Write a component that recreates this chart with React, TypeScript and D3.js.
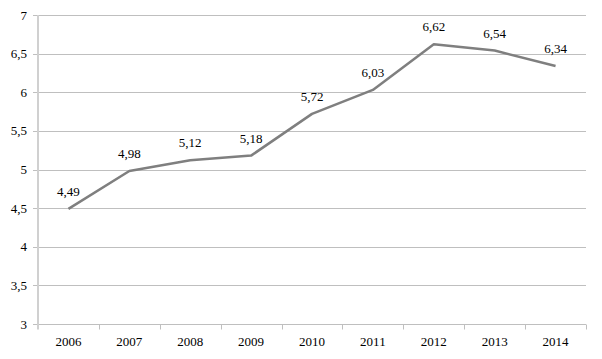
import { useEffect, useRef } from "react";
import * as d3 from "d3";

const years = ["2006", "2007", "2008", "2009", "2010", "2011", "2012", "2013", "2014"];
const values = [4.49, 4.98, 5.12, 5.18, 5.72, 6.03, 6.62, 6.54, 6.34];
const yTicks = [3, 3.5, 4, 4.5, 5, 5.5, 6, 6.5, 7];

const fmt = (v: number) => String(v).replace(".", ",");
const FONT = '"Liberation Serif", "DejaVu Serif", serif';

export default function App() {
  const ref = useRef<SVGSVGElement | null>(null);

  useEffect(() => {
    const node = ref.current;
    if (!node) return;
    const svg = d3.select(node);
    svg.selectAll("*").remove();

    const width = 602;
    const height = 359;
    const marginLeft = 38;
    const marginRight = 16;
    const marginTop = 15;
    const marginBottom = 35;

    const x = d3
      .scaleBand<string>()
      .domain(years)
      .range([marginLeft, width - marginRight]);
    const y = d3
      .scaleLinear()
      .domain([3, 7])
      .range([height - marginBottom, marginTop]);

    const label = (sel: d3.Selection<any, any, any, any>) =>
      sel.style("font-family", FONT).style("font-size", "13px").attr("fill", "#000");

    // gridlines
    svg
      .append("g")
      .selectAll("line")
      .data(yTicks.slice(1))
      .join("line")
      .attr("x1", marginLeft - 5)
      .attr("x2", width - marginRight)
      .attr("y1", (d) => Math.round(y(d)) + 0.5)
      .attr("y2", (d) => Math.round(y(d)) + 0.5)
      .attr("stroke", "#bfbfbf")
      .attr("stroke-width", 1);

    // y labels
    svg
      .append("g")
      .selectAll("text")
      .data(yTicks)
      .join("text")
      .attr("x", marginLeft - 11)
      .attr("y", (d) => y(d) + 4.5)
      .attr("text-anchor", "end")
      .call(label)
      .text((d) => fmt(d));

    // x axis
    const baseY = Math.round(y(3)) + 0.5;
    svg
      .append("line")
      .attr("x1", marginLeft - 5)
      .attr("x2", width - marginRight)
      .attr("y1", baseY)
      .attr("y2", baseY)
      .attr("stroke", "#bfbfbf");

    svg
      .append("g")
      .selectAll("line")
      .data(years)
      .join("line")
      .attr("x1", (d) => Math.round((x(d) ?? 0) + x.bandwidth()) + 0.5)
      .attr("x2", (d) => Math.round((x(d) ?? 0) + x.bandwidth()) + 0.5)
      .attr("y1", baseY)
      .attr("y2", baseY + 5)
      .attr("stroke", "#bfbfbf");

    // y axis line
    svg
      .append("line")
      .attr("x1", marginLeft)
      .attr("x2", marginLeft)
      .attr("y1", marginTop)
      .attr("y2", baseY + 5)
      .attr("stroke", "#d0d0d0")
      .attr("stroke-width", 2);

    svg
      .append("g")
      .selectAll("text")
      .data(years)
      .join("text")
      .attr("x", (d) => (x(d) ?? 0) + x.bandwidth() / 2)
      .attr("y", height - 13)
      .attr("text-anchor", "middle")
      .call(label)
      .text((d) => d);

    const data = years.map((yr, i) => ({ yr, v: values[i] }));
    const line = d3
      .line<{ yr: string; v: number }>()
      .x((d) => (x(d.yr) ?? 0) + x.bandwidth() / 2)
      .y((d) => y(d.v));

    svg
      .append("path")
      .datum(data)
      .attr("d", line)
      .attr("fill", "none")
      .attr("stroke", "#7f7f7f")
      .attr("stroke-width", 2.5)
      .attr("stroke-linejoin", "round");

    svg
      .append("g")
      .selectAll("text")
      .data(data)
      .join("text")
      .attr("x", (d) => (x(d.yr) ?? 0) + x.bandwidth() / 2)
      .attr("y", (d) => y(d.v) - 13)
      .attr("text-anchor", "middle")
      .call(label)
      .text((d) => fmt(d.v));
  }, []);

  return (
    <svg
      ref={ref}
      width={602}
      height={359}
      style={{ position: "absolute", left: 0, top: 0, background: "#fff" }}
    />
  );
}
